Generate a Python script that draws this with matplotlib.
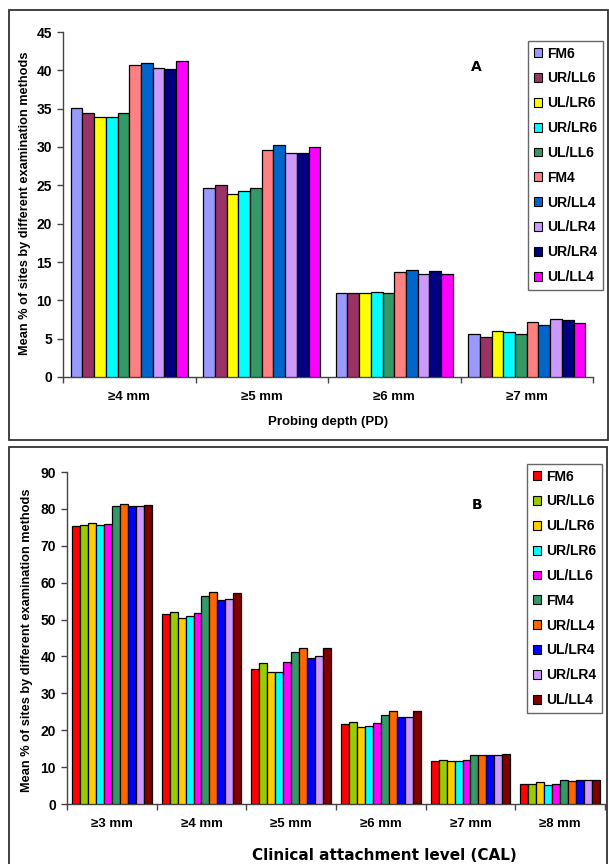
import matplotlib
matplotlib.use("Agg")
import matplotlib.pyplot as plt
from matplotlib.patches import Rectangle, Patch
import numpy as np

plt.rcParams['font.family'] = ['Liberation Sans', 'DejaVu Sans']

methods = ["FM6", "UR/LL6", "UL/LR6", "UR/LR6", "UL/LL6",
           "FM4", "UR/LL4", "UL/LR4", "UR/LR4", "UL/LL4"]

# panel A: probing depth
pd_labels = ["≥4 mm", "≥5 mm", "≥6 mm", "≥7 mm"]
pd_values = [
    [35.1, 24.6, 10.95, 5.6],   # FM6
    [34.5, 25.0, 10.9, 5.2],    # UR/LL6
    [33.9, 23.9, 10.95, 6.0],   # UL/LR6
    [33.9, 24.2, 11.1, 5.9],    # UR/LR6
    [34.5, 24.6, 10.9, 5.55],   # UL/LL6
    [40.7, 29.6, 13.7, 7.2],    # FM4
    [41.0, 30.2, 13.95, 6.8],   # UR/LL4
    [40.3, 29.2, 13.4, 7.6],    # UL/LR4
    [40.2, 29.2, 13.8, 7.5],    # UR/LR4
    [41.2, 30.0, 13.5, 7.0],    # UL/LL4
]
pd_colors = ["#9999FF", "#993366", "#FFFF00", "#00FFFF", "#339966",
             "#FF8080", "#0066CC", "#CC99FF", "#000080", "#FF00FF"]

# panel B: clinical attachment level
cal_labels = ["≥3 mm", "≥4 mm", "≥5 mm", "≥6 mm", "≥7 mm", "≥8 mm"]
cal_values = [
    [75.3, 51.5, 36.6, 21.7, 11.7, 5.5],   # FM6
    [75.6, 52.0, 38.1, 22.3, 12.0, 5.3],   # UR/LL6
    [76.1, 50.5, 35.7, 20.9, 11.7, 5.9],   # UL/LR6
    [75.6, 50.9, 35.8, 21.1, 11.7, 5.2],   # UR/LR6
    [76.0, 51.9, 38.4, 22.0, 12.0, 5.5],   # UL/LL6
    [80.8, 56.4, 41.1, 24.2, 13.3, 6.6],   # FM4
    [81.2, 57.6, 42.2, 25.1, 13.3, 6.3],   # UR/LL4
    [80.8, 55.2, 39.7, 23.7, 13.3, 6.6],   # UL/LR4
    [80.7, 55.5, 40.2, 23.7, 13.3, 6.6],   # UR/LR4
    [81.1, 57.2, 42.2, 25.1, 13.5, 6.6],   # UL/LL4
]
cal_colors = ["#FF0000", "#99CC00", "#FFCC00", "#00FFFF", "#FF00FF",
              "#339966", "#FF6600", "#0000FF", "#CC99FF", "#800000"]

W, H = 609, 864
fig = plt.figure(figsize=(W / 100, H / 100), dpi=100)


def px_box(x0, y0, x1, y1):
    # pixel box (top-left origin) -> figure fraction rect
    return [x0 / W, 1 - y1 / H, (x1 - x0) / W, (y1 - y0) / H]


def draw_panel(ax, labels, values, colors, ymax, ystep):
    n = len(labels)
    x = np.arange(n)
    bw = 0.0885
    for i, (vals, col) in enumerate(zip(values, colors)):
        ax.bar(x + (i - 4.5) * bw, vals, width=bw, color=col,
               edgecolor="black", linewidth=0.9, label=methods[i], zorder=3)
    ax.set_xlim(-0.5, n - 0.5)
    ax.set_ylim(0, ymax)
    ax.set_yticks(np.arange(0, ymax + 1, ystep))
    ax.set_xticks(x)
    ax.set_xticklabels(labels, fontsize=9.5, fontweight="bold")
    ax.set_xticks(np.arange(n + 1) - 0.5, minor=True)
    ax.tick_params(axis="x", which="major", length=0, pad=10)
    ax.tick_params(axis="x", which="minor", length=4, width=1, color="#444444")
    ax.tick_params(axis="y", length=4, width=1, color="#444444", pad=4,
                   labelsize=10)
    for t in ax.get_yticklabels():
        t.set_fontweight("bold")
    for s in ["top", "right"]:
        ax.spines[s].set_visible(False)
    for s in ["left", "bottom"]:
        ax.spines[s].set_color("#444444")
        ax.spines[s].set_linewidth(1)


# panel frames
fig.patches.append(Rectangle((9 / W, 1 - 440 / H), 599 / W, 430 / H,
                             transform=fig.transFigure, fill=False,
                             edgecolor="#333333", linewidth=1.3))
fig.patches.append(Rectangle((9 / W, 1 - 870 / H), 598 / W, 423 / H,
                             transform=fig.transFigure, fill=False,
                             edgecolor="#333333", linewidth=1.3))

axA = fig.add_axes(px_box(63, 32, 593, 377))
draw_panel(axA, pd_labels, np.array(pd_values), pd_colors, 45, 5)
axB = fig.add_axes(px_box(67, 472, 605, 804))
draw_panel(axB, cal_labels, np.array(cal_values), cal_colors, 90, 10)

ylab = "Mean % of sites by different examination methods"
fig.text(25 / W, 1 - 203 / H, ylab, rotation=90, ha="center", va="center",
         fontsize=9.2, fontweight="bold")
fig.text(27 / W, 1 - 640 / H, ylab, rotation=90, ha="center", va="center",
         fontsize=9.2, fontweight="bold")
fig.text(328 / W, 1 - 422 / H, "Probing depth (PD)", ha="center", va="center",
         fontsize=9.5, fontweight="bold")
fig.text(384 / W, 1 - 856 / H, "Clinical attachment level (CAL)",
         ha="center", va="center", fontsize=11, fontweight="bold",
         family="DejaVu Sans")
fig.text(476 / W, 1 - 67 / H, "A", ha="center", va="center",
         fontsize=10, fontweight="bold", family="DejaVu Sans")
fig.text(477 / W, 1 - 505 / H, "B", ha="center", va="center",
         fontsize=10, fontweight="bold", family="DejaVu Sans")


def add_legend(ax, colors, x0, y0):
    handles = [Patch(facecolor=c, edgecolor="black", linewidth=0.8)
               for c in colors]
    leg = ax.legend(handles, methods, loc="upper left",
                    bbox_to_anchor=(x0 / W, 1 - y0 / H),
                    bbox_transform=fig.transFigure,
                    prop={"size": 10, "weight": "bold"},
                    handlelength=0.6, handleheight=0.6, handletextpad=0.4,
                    labelspacing=0.78, borderpad=0.4, borderaxespad=0,
                    fancybox=False, framealpha=1)
    leg.get_frame().set_edgecolor("#666666")
    leg.get_frame().set_linewidth(1)


add_legend(axA, pd_colors, 528, 41)
add_legend(axB, cal_colors, 527, 464)

fig.savefig("out.png", dpi=100)
